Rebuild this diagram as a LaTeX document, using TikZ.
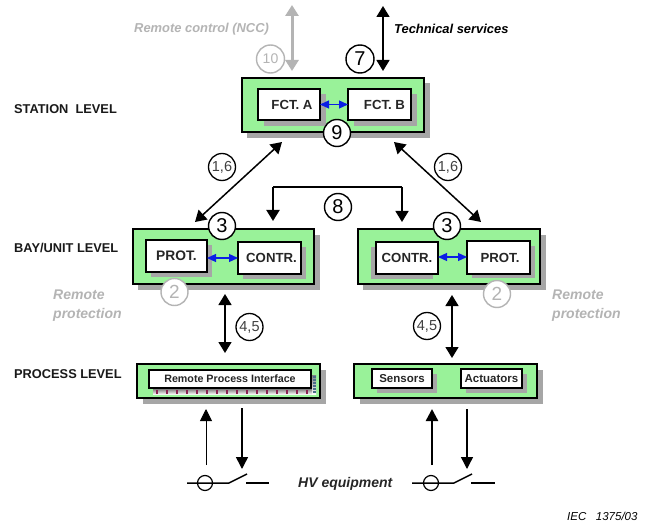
\documentclass[tikz,border=0pt]{standalone}
\usepackage{fontspec}
\setmainfont{Liberation Sans}
\usetikzlibrary{arrows.meta,calc}
\definecolor{boxgreen}{HTML}{99F299}
\definecolor{shade}{HTML}{A6A6A6}
\definecolor{faint}{HTML}{B4B4B4}
\definecolor{arrowblue}{HTML}{0A1EE6}
\definecolor{dotred}{HTML}{8A2050}
\definecolor{dotblue}{HTML}{4A6A8A}
\tikzset{
  x=1pt,y=-1pt,
  sized/.style 2 args={minimum width=#1pt,minimum height=#2pt},
  panel/.style={draw=black,line width=1.6pt,fill=boxgreen,anchor=north west,inner sep=0pt,outer sep=0pt},
  shadowbox/.style={fill=shade,anchor=north west,inner sep=0pt,outer sep=0pt},
  func/.style={draw=black,line width=1.5pt,fill=white,anchor=north west,inner sep=0pt,outer sep=0pt,font=\bfseries\fontsize{13.2}{13.2}\selectfont,text=black!85},
  smallfunc/.style={func,font=\bfseries\fontsize{11.5}{11.5}\selectfont},
  num/.style={circle,draw=black,line width=1.4pt,fill=white,minimum size=27pt,inner sep=0pt,font=\fontsize{20}{20}\selectfont},
  smallnum/.style={circle,draw=black,line width=1.3pt,fill=white,minimum size=27pt,inner sep=0pt,font=\fontsize{14.5}{14.5}\selectfont,text=black!75},
  greynum/.style={circle,draw=faint,line width=1.4pt,fill=white,minimum size=27pt,inner sep=0pt,font=\fontsize{19}{19}\selectfont,text=faint},
  dbl/.style={{Triangle[length=11pt,width=13pt]}-{Triangle[length=11pt,width=13pt]},line width=1.5pt,black},
  blu/.style={{Triangle[length=9pt,width=8pt]}-{Triangle[length=9pt,width=8pt]},line width=1.3pt,arrowblue},
  uni/.style={-{Triangle[length=12pt,width=12pt]},black},
  level/.style={anchor=west,inner sep=0pt,font=\bfseries\fontsize{12.8}{12.8}\selectfont,text=black!90},
  side/.style={inner sep=0pt,font=\bfseries\itshape\fontsize{14}{18.5}\selectfont,text=faint,align=left,anchor=north west},
  note/.style={inner sep=0pt,font=\bfseries\itshape\fontsize{12.9}{12.9}\selectfont,anchor=west},
  wire/.style={line width=1.5pt,black},
}
\begin{document}
\begin{tikzpicture}
\useasboundingbox (0,0) rectangle (662,524);
\fill[white] (0,0) rectangle (662,524);

% shadows
\node[shadowbox,sized={183}{55}] at (247,83) {};
\node[shadowbox,sized={182}{55}] at (138,235) {};
\node[shadowbox,sized={183}{55}] at (363,235) {};
\node[shadowbox,sized={183}{34}] at (143,370) {};
\node[shadowbox,sized={183}{34}] at (360,370) {};

% panels
\node[panel,sized={182}{54}] (station) at (242,78) {};
\node[panel,sized={181}{55}] (bayL) at (133,229) {};
\node[panel,sized={182}{55}] (bayR) at (358,229) {};
\node[panel,sized={183}{34}] (procL) at (137,364) {};
\node[panel,sized={183}{34}] (procR) at (354,364) {};

% inner shadows
\node[shadowbox,sized={62}{32}] at (264,94) {};
\node[shadowbox,sized={63}{32}] at (354,94) {};
\node[shadowbox,sized={61}{32}] at (151,245) {};
\node[shadowbox,sized={63}{32}] at (243,247) {};
\node[shadowbox,sized={62}{32}] at (371,247) {};
\node[shadowbox,sized={63}{32}] at (472,246) {};
\node[shadowbox,sized={60}{19}] at (377,374) {};
\node[shadowbox,sized={61}{19}] at (466,374) {};

% shaded strip and dots of the remote process interface
\fill[shade] (153,389) rectangle (316,394.5);
\fill[shade] (312,375) rectangle (316,394.5);
\foreach \dx in {157,167,...,307} {
  \fill[dotred] (\dx-0.8,390) rectangle (\dx+0.8,394);
}
\foreach \dy in {376,379,...,391} {
  \fill[dotblue] (313,\dy) rectangle (315.5,\dy+1.6);
}

% inner boxes
\node[func,sized={62}{31}] (fctA) at (258,89) {\hspace*{6pt}FCT. A};
\node[func,sized={63}{31}] (fctB) at (348,89) {\hspace*{10pt}\raisebox{-2pt}{FCT. B}};
\node[func,sized={61}{32},font=\bfseries\fontsize{13.8}{13.8}\selectfont] (protL) at (146,240) {PROT.};
\node[func,sized={63}{32}] (contrL) at (238,242) {\hspace*{4pt}CONTR.};
\node[func,sized={62}{32}] (contrR) at (376,242) {CONTR.};
\node[func,sized={63}{33}] (protR) at (467,241) {\hspace*{3pt}PROT.};
\node[smallfunc,sized={162}{18},font=\bfseries\fontsize{10.7}{10.7}\selectfont] (rpi) at (149,370) {Remote Process Interface};
\node[smallfunc,sized={60}{19}] (sens) at (372,369) {Sensors};
\node[smallfunc,sized={61}{19}] (act) at (461,369) {Actuators};

% blue links
\draw[blu] (fctA.east) -- (fctB.west);
\draw[blu] (protL.east |- 0,258) -- (contrL.west |- 0,258);
\draw[blu] (contrR.east |- 0,257) -- (protR.west |- 0,257);

% free ends
\coordinate (ncc) at (292,5);
\coordinate (nccB) at (292,71);
\coordinate (ts) at (383,6);
\coordinate (tsB) at (383,71);
\coordinate (stL) at (282,142);
\coordinate (stR) at (394,142);
\coordinate (bayLt) at (195,222);
\coordinate (bayRt) at (481,222);
\coordinate (top8L) at (273,187);
\coordinate (top8R) at (402,187);
\coordinate (bar8L) at (273,221);
\coordinate (bar8R) at (402,222);
\coordinate (m1) at (225,294);
\coordinate (m2) at (225,353);
\coordinate (m3) at (452,295);
\coordinate (m4) at (452,358);
\coordinate (a1s) at (206,465);
\coordinate (a1e) at (206,409);
\coordinate (a2s) at (242,408);
\coordinate (a2e) at (242,469);
\coordinate (a3s) at (432,465);
\coordinate (a3e) at (432,409);
\coordinate (a4s) at (467,409);
\coordinate (a4e) at (467,469);

% connectors
\draw[faint,line width=3pt,{Triangle[length=11pt,width=13pt]}-{Triangle[length=11pt,width=13pt]}] (ncc) -- (nccB);
\draw[dbl] (ts) -- (tsB);
\draw[dbl] (stL) -- (bayLt);
\draw[dbl] (stR) -- (bayRt);
\draw[line width=1.6pt] (top8L) -- (top8R);
\draw[line width=2pt,-{Triangle[length=11pt,width=13pt]}] (top8L) -- (bar8L);
\draw[line width=1.6pt,-{Triangle[length=11pt,width=13pt]}] (top8R) -- (bar8R);
\draw[dbl] (m1) -- (m2);
\draw[dbl] (m3) -- (m4);
\draw[uni,line width=0.9pt] (a1s) -- (a1e);
\draw[uni,line width=1.6pt] (a2s) -- (a2e);
\draw[uni,line width=2.4pt] (a3s) -- (a3e);
\draw[uni,line width=1.4pt] (a4s) -- (a4e);

% numbered circles
\node[greynum,minimum size=28pt,font=\fontsize{14}{14}\selectfont] (n10) at (270.5,59) {10};
\node[num,minimum size=28pt] (n7) at (360,59) {7};
\node[num] (n9) at (337,133) {9};
\node[smallnum] (n16L) at (222,167) {1,6};
\node[smallnum] (n16R) at (448,167) {1,6};
\node[num] (n8) at (338,207) {8};
\node[num] (n3L) at (222,226) {3};
\node[num] (n3R) at (447,226) {3};
\node[greynum] (n2L) at (174.5,292) {2};
\node[greynum] (n2R) at (497,294) {2};
\node[smallnum] (n45L) at (249.5,327) {4,5};
\node[smallnum] (n45R) at (427,326) {4,5};

% switchgear
\node[circle,draw=black,line width=1.2pt,minimum size=15pt,inner sep=0pt] (swL) at (205,483) {};
\node[circle,draw=black,line width=1.2pt,minimum size=15pt,inner sep=0pt] (swR) at (431,483) {};
\coordinate (l0) at (187,483); \coordinate (l1) at (229,483); \coordinate (l2) at (247,474);
\coordinate (l3) at (246,483); \coordinate (l4) at (269,483);
\coordinate (r0) at (412,483); \coordinate (r1) at (454,483); \coordinate (r2) at (472,474);
\coordinate (r3) at (471,483); \coordinate (r4) at (495,483);
\draw[wire] (l0) -- (l1) -- (l2);
\draw[wire] (l3) -- (l4);
\draw[wire] (r0) -- (r1) -- (r2);
\draw[wire] (r3) -- (r4);

% labels
\node[level] (lvS) at (14,109) {STATION\ \ LEVEL};
\node[level] (lvB) at (14,248) {BAY/UNIT LEVEL};
\node[level] (lvP) at (14,374) {PROCESS LEVEL};
\node[note,text=faint] (tNCC) at (134,29) {Remote control (NCC)};
\node[note] (tTS) at (394,29) {Technical services};
\node[note,font=\bfseries\itshape\fontsize{14}{14}\selectfont,text=black!85] (tHV) at (298,484) {HV equipment};
\node[side] (rpL) at (53,290) {Remote\\protection};
\node[side] (rpR) at (552,290) {Remote\\protection};
\node[inner sep=0pt,font=\itshape\fontsize{11.5}{11.5}\selectfont,anchor=west] (iec) at (567,516) {IEC\ \ \ 1375/03};
\end{tikzpicture}
\end{document}
